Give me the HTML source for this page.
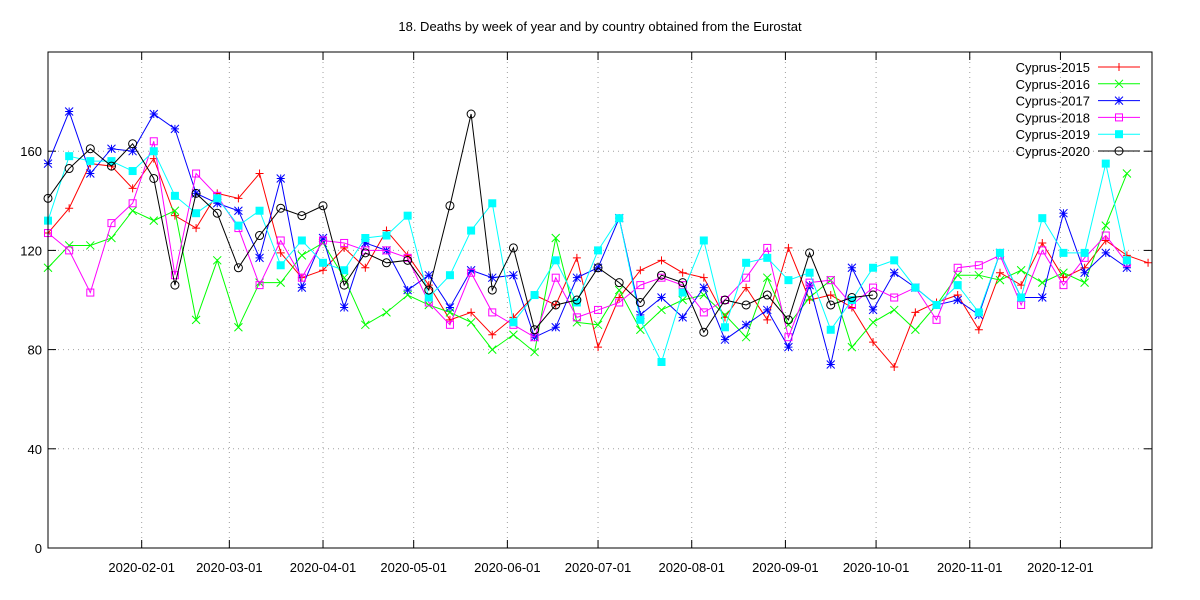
<!DOCTYPE html>
<html><head><meta charset="utf-8"><style>
html,body{margin:0;padding:0;background:#fff;}
svg{display:block;font-family:"Liberation Sans",sans-serif;}
</style></head><body>
<svg id="chart" width="1200" height="600" xmlns="http://www.w3.org/2000/svg"></svg>
<script>
const seriesNames = ["Cyprus-2015","Cyprus-2016","Cyprus-2017","Cyprus-2018","Cyprus-2019","Cyprus-2020"];
const seriesColors = ["#ff0000","#00ff00","#0000ff","#ff00ff","#00ffff","#000000"];
const markerTypes = ["plus","cross","star","osquare","fsquare","circle"];
const y2015 = [127,137,155,154,145,157,134,129,143,141,151,119,109,112,121,113,128,118,106,92,95,86,93,102,98,117,81,101,112,116,111,109,93,105,92,121,100,102,97,83,73,95,99,102,88,111,106,123,109,113,124,118,115];
const y2016 = [113,122,122,125,136,132,136,92,116,89,107,107,118,123,109,90,95,102,98,95,91,80,86,79,125,91,90,104,88,96,100,102,94,85,109,90,101,108,81,91,96,88,98,110,110,108,112,107,111,107,130,151];
const y2017 = [155,176,151,161,160,175,169,143,139,136,117,149,105,125,97,123,120,104,110,97,112,109,110,85,89,109,113,133,94,101,93,105,84,90,96,81,106,74,113,96,111,105,98,100,94,119,101,101,135,111,119,113];
const y2018 = [127,120,103,131,139,164,110,151,142,129,106,124,109,124,123,120,120,117,99,90,111,95,90,85,109,93,96,99,106,109,106,95,100,109,121,85,107,108,98,105,101,105,92,113,114,118,98,120,106,117,126,115];
const y2019 = [132,158,156,156,152,160,142,135,141,130,136,114,124,115,112,125,126,134,101,110,128,139,91,102,116,99,120,133,92,75,103,124,89,115,117,108,111,88,100,113,116,105,98,106,95,119,101,133,119,119,155,116];
const y2020 = [141,153,161,154,163,149,106,143,135,113,126,137,134,138,106,119,115,116,104,138,175,104,121,88,98,100,113,107,99,110,107,87,100,98,102,92,119,98,101,102];
const yTicks = [0,40,80,120,160];
const xTickLabels = ["2020-02-01","2020-03-01","2020-04-01","2020-05-01","2020-06-01","2020-07-01","2020-08-01","2020-09-01","2020-10-01","2020-11-01","2020-12-01"];
const xTickDays = [31,60,91,121,152,182,213,244,274,305,335];
const allSeries = [y2015,y2016,y2017,y2018,y2019,y2020];

const L=48,R=1152,T=52,B=548;
const X = d => L + d*(R-L)/365.3;
const Y = v => B - v*(B-T)/200;
const NS="http://www.w3.org/2000/svg";
const svg=document.getElementById('chart');
function mk(tag,attrs,parent){const e=document.createElementNS(NS,tag);for(const k in attrs)e.setAttribute(k,attrs[k]);(parent||svg).appendChild(e);return e;}

const title=mk('text',{x:600,y:31,'text-anchor':'middle','font-size':13});
title.textContent="18. Deaths by week of year and by country obtained from the Eurostat";



const grid=mk('g',{});


yTicks.forEach(v=>{
  const y=Y(v);
  if(v>0) mk('line',{x1:L,x2:R,y1:y,y2:y,stroke:'#a0a0a0','stroke-dasharray':'1,4','stroke-width':1},grid);
  mk('line',{x1:L,x2:L+8,y1:y,y2:y,stroke:'#000'},grid);
  mk('line',{x1:R,x2:R-8,y1:y,y2:y,stroke:'#000'},grid);
  const t=mk('text',{x:42,y:y+5,'text-anchor':'end','font-size':13});
  t.textContent=v;
  
  
});
xTickDays.forEach((d,i)=>{
  const x=X(d);
  mk('line',{x1:x,x2:x,y1:T,y2:B,stroke:'#a0a0a0','stroke-dasharray':'1,4','stroke-width':1},grid);
  mk('line',{x1:x,x2:x,y1:B,y2:B-8,stroke:'#000'},grid);
  mk('line',{x1:x,x2:x,y1:T,y2:T+8,stroke:'#000'},grid);
  const t=mk('text',{x:x,y:572,'text-anchor':'middle','font-size':13});
  t.textContent=xTickLabels[i];
  
  
});

function marker(type,x,y,c,g){
  const s=4;
  if(type==='plus'){mk('path',{d:`M${x-s} ${y}H${x+s}M${x} ${y-s}V${y+s}`,stroke:c,fill:'none'},g);}
  else if(type==='cross'){mk('path',{d:`M${x-s} ${y-s}L${x+s} ${y+s}M${x-s} ${y+s}L${x+s} ${y-s}`,stroke:c,fill:'none'},g);}
  else if(type==='star'){mk('path',{d:`M${x-s} ${y}H${x+s}M${x} ${y-s}V${y+s}M${x-s} ${y-s}L${x+s} ${y+s}M${x-s} ${y+s}L${x+s} ${y-s}`,stroke:c,fill:'none'},g);}
  else if(type==='osquare'){mk('rect',{x:x-3.5,y:y-3.5,width:7,height:7,stroke:c,fill:'none'},g);}
  else if(type==='fsquare'){mk('rect',{x:x-4,y:y-4,width:8,height:8,fill:c},g);}
  else {mk('circle',{cx:x,cy:y,r:4,stroke:c,fill:'none'},g);}
}

allSeries.forEach((arr,si)=>{
  const g=mk('g',{});
  
  
  const pts=arr.map((v,i)=>X(i*7)+','+Y(v)).join(' ');
  mk('polyline',{points:pts,fill:'none',stroke:seriesColors[si],'stroke-width':1},g);
  arr.forEach((v,i)=>marker(markerTypes[si],X(i*7),Y(v),seriesColors[si],g));
});

mk('rect',{x:L,y:T,width:R-L,height:B-T,fill:'none',stroke:'#000'});

const leg=mk('g',{});


seriesNames.forEach((n,i)=>{
  const y=67+i*16.8;
  const e=mk('g',{},leg);
  
  
  const t=mk('text',{x:1090,y:y+5,'text-anchor':'end','font-size':13},e);
  t.textContent=n;
  mk('line',{x1:1098,x2:1140,y1:y,y2:y,stroke:seriesColors[i]},e);
  marker(markerTypes[i],1119,y,seriesColors[i],e);
});
</script>
</body></html>
